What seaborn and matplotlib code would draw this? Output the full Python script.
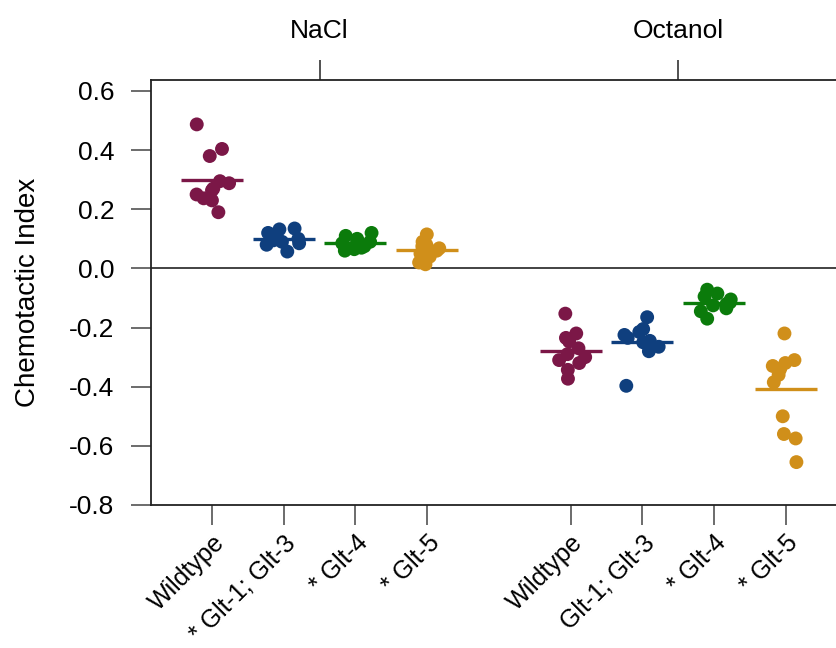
import numpy as np
import pandas as pd
import matplotlib
matplotlib.use("Agg")
import matplotlib.pyplot as plt
import seaborn as sns

# Groups and genotypes
stimuli = ["NaCl", "Octanol"]
genotypes = ["Wildtype", "Glt-1; Glt-3", "Glt-4", "Glt-5"]
tick_labels = ["Wildtype", "* Glt-1; Glt-3", "* Glt-4", "* Glt-5",
               "Wildtype", "Glt-1; Glt-3", "* Glt-4", "* Glt-5"]
genotype_colors = ["#7B1747", "#0F3F7E", "#0B7B0B", "#D08F1A"]
y_ticks = [-0.8, -0.6, -0.4, -0.2, 0.0, 0.2, 0.4, 0.6]
y_tick_labels = ["-0.8", "-0.6", "-0.4", "-0.2", "0.0", "0.2", "0.4", "0.6"]

# Chemotactic index per assay plate
nacl_wildtype = [0.487, 0.404, 0.380, 0.295, 0.288, 0.270, 0.264, 0.250, 0.237, 0.230, 0.190]
nacl_glt13 = [0.135, 0.132, 0.120, 0.115, 0.100, 0.095, 0.090, 0.085, 0.080, 0.057]
nacl_glt4 = [0.120, 0.110, 0.100, 0.090, 0.085, 0.080, 0.075, 0.070, 0.065, 0.060]
nacl_glt5 = [0.115, 0.090, 0.080, 0.075, 0.068, 0.060, 0.050, 0.040, 0.020, 0.014]
oct_wildtype = [-0.153, -0.220, -0.235, -0.247, -0.270, -0.290, -0.300, -0.310, -0.320, -0.343, -0.373]
oct_glt13 = [-0.165, -0.205, -0.215, -0.225, -0.235, -0.245, -0.250, -0.260, -0.265, -0.280, -0.397]
oct_glt4 = [-0.072, -0.085, -0.095, -0.105, -0.115, -0.120, -0.125, -0.135, -0.145, -0.170]
oct_glt5 = [-0.220, -0.310, -0.320, -0.330, -0.340, -0.340, -0.360, -0.385, -0.500, -0.560, -0.575, -0.655]

series = {
    ("NaCl", "Wildtype"): nacl_wildtype,
    ("NaCl", "Glt-1; Glt-3"): nacl_glt13,
    ("NaCl", "Glt-4"): nacl_glt4,
    ("NaCl", "Glt-5"): nacl_glt5,
    ("Octanol", "Wildtype"): oct_wildtype,
    ("Octanol", "Glt-1; Glt-3"): oct_glt13,
    ("Octanol", "Glt-4"): oct_glt4,
    ("Octanol", "Glt-5"): oct_glt5,
}

rows = []
for (stim, geno), vals in series.items():
    for v in vals:
        rows.append({"group": f"{stim} | {geno}", "genotype": geno, "ci": v})
df = pd.DataFrame(rows)

# Category order with an empty slot separating the two stimuli
order = [f"NaCl | {g}" for g in genotypes] + [" "] + [f"Octanol | {g}" for g in genotypes]

sns.set_style("white")
plt.rcParams["font.family"] = ["Liberation Sans", "DejaVu Sans"]
plt.rcParams["axes.unicode_minus"] = False
plt.rcParams["text.color"] = "black"
plt.rcParams["axes.labelcolor"] = "black"
plt.rcParams["xtick.color"] = "black"
plt.rcParams["ytick.color"] = "black"

fig = plt.figure(figsize=(8.36, 6.48), dpi=100)
ax = fig.add_axes([0.1806, 0.2207, 0.8194, 0.6558])

np.random.seed(7)
sns.stripplot(data=df, x="group", y="ci", hue="genotype", order=order,
              hue_order=genotypes, palette=genotype_colors, jitter=0.25,
              size=10, linewidth=0, alpha=1, legend=False, ax=ax, zorder=3)

sns.pointplot(data=df, x="group", y="ci", hue="genotype", order=order,
              hue_order=genotypes, palette=genotype_colors, estimator="mean",
              errorbar=None, markers="_", linestyles="none", dodge=False,
              markersize=44, markeredgewidth=2.4, legend=False, ax=ax)

ax.axhline(0, color="#222222", lw=1.2, zorder=1)

ax.set_xlim(-0.85, 8.70)
ax.set_ylim(-0.8, 0.637)
ax.set_yticks(y_ticks)
ax.set_yticklabels(y_tick_labels)
pos = [order.index(f"{s} | {g}") for s in stimuli for g in genotypes]
ax.set_xticks(pos)
ax.set_xticklabels(tick_labels, rotation=45, ha="right", rotation_mode="anchor")
ax.set_xlabel("")
ax.set_ylabel("Chemotactic Index", fontsize=20, labelpad=20, color="black")

for side in ["left", "bottom", "top"]:
    ax.spines[side].set_visible(True)
    ax.spines[side].set_color("#222222")
    ax.spines[side].set_linewidth(1.3)
ax.spines["right"].set_visible(False)

ax.tick_params(axis="both", which="major", bottom=True, left=True,
               direction="out", length=14.4, width=1.1,
               color="#444444", labelsize=19, labelcolor="black")
ax.tick_params(axis="y", pad=12)
ax.tick_params(axis="x", labelsize=18, pad=4)

# Stimulus labels along the top edge
top = ax.secondary_xaxis("top")
top.set_xticks([1.5, 6.5])
top.set_xticklabels(stimuli)
top.tick_params(top=True, direction="out", length=14.4, width=1.1,
                color="#222222", labelsize=19, labelcolor="black", pad=12)
top.spines["top"].set_visible(False)

fig.savefig("out.png", dpi=100)
